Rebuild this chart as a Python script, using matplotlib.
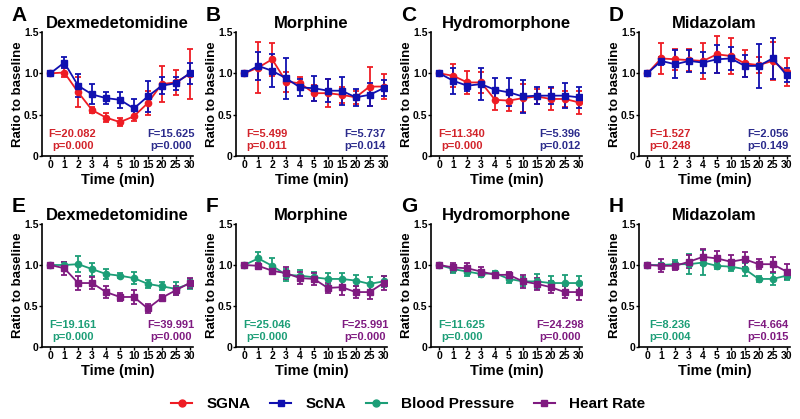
import matplotlib
matplotlib.use("Agg")
import matplotlib.pyplot as plt
from matplotlib.lines import Line2D

plt.rcParams["font.family"] = ["Liberation Sans", "DejaVu Sans"]
plt.rcParams["font.weight"] = "bold"

TIMES = ["0", "1", "2", "3", "4", "5", "10", "15", "20", "25", "30"]
DRUGS = ["Dexmedetomidine", "Morphine", "Hydromorphone", "Midazolam"]
LETTERS_TOP = ["A", "B", "C", "D"]
LETTERS_BOTTOM = ["E", "F", "G", "H"]

# top row: SGNA (red) and ScNA (blue)
sgna_mean = [
    [1.00, 1.01, 0.77, 0.555, 0.465, 0.41, 0.48, 0.64, 0.87, 0.89, 0.99],
    [1.00, 1.07, 1.17, 0.90, 0.88, 0.76, 0.76, 0.74, 0.71, 0.84, 0.84],
    [1.00, 0.97, 0.89, 0.89, 0.68, 0.67, 0.70, 0.72, 0.69, 0.69, 0.65],
    [1.00, 1.18, 1.17, 1.16, 1.15, 1.23, 1.21, 1.12, 1.10, 1.15, 1.02],
]
sgna_err = [
    [0.00, 0.05, 0.18, 0.04, 0.05, 0.05, 0.06, 0.15, 0.22, 0.15, 0.30],
    [0.00, 0.31, 0.20, 0.12, 0.07, 0.10, 0.17, 0.10, 0.08, 0.24, 0.15],
    [0.00, 0.14, 0.14, 0.13, 0.12, 0.12, 0.17, 0.09, 0.13, 0.10, 0.14],
    [0.00, 0.19, 0.13, 0.13, 0.22, 0.22, 0.22, 0.16, 0.10, 0.23, 0.17],
]
scna_mean = [
    [1.00, 1.13, 0.85, 0.745, 0.70, 0.68, 0.575, 0.72, 0.85, 0.88, 1.00],
    [1.00, 1.09, 1.03, 0.94, 0.83, 0.82, 0.79, 0.79, 0.71, 0.74, 0.82],
    [1.00, 0.91, 0.85, 0.87, 0.80, 0.77, 0.72, 0.73, 0.73, 0.73, 0.71],
    [1.00, 1.15, 1.11, 1.15, 1.13, 1.17, 1.18, 1.09, 1.09, 1.18, 0.98],
]
scna_err = [
    [0.00, 0.07, 0.14, 0.12, 0.07, 0.10, 0.11, 0.19, 0.10, 0.08, 0.13],
    [0.00, 0.17, 0.20, 0.25, 0.10, 0.15, 0.14, 0.17, 0.10, 0.14, 0.10],
    [0.00, 0.16, 0.06, 0.19, 0.14, 0.17, 0.20, 0.10, 0.10, 0.15, 0.13],
    [0.00, 0.05, 0.17, 0.13, 0.13, 0.17, 0.14, 0.13, 0.27, 0.25, 0.09],
]
# bottom row: Blood Pressure (green) and Heart Rate (purple)
bp_mean = [
    [1.00, 1.00, 1.01, 0.95, 0.89, 0.87, 0.84, 0.77, 0.74, 0.71, 0.77],
    [1.00, 1.08, 0.99, 0.88, 0.87, 0.85, 0.83, 0.83, 0.81, 0.77, 0.80],
    [1.00, 0.95, 0.92, 0.89, 0.90, 0.83, 0.80, 0.80, 0.78, 0.78, 0.78],
    [1.00, 1.00, 1.01, 1.01, 1.03, 0.99, 0.98, 0.95, 0.83, 0.83, 0.87],
]
bp_err = [
    [0.00, 0.04, 0.10, 0.08, 0.06, 0.03, 0.07, 0.05, 0.05, 0.08, 0.06],
    [0.00, 0.08, 0.09, 0.07, 0.07, 0.06, 0.07, 0.07, 0.07, 0.08, 0.07],
    [0.00, 0.05, 0.05, 0.04, 0.03, 0.05, 0.05, 0.09, 0.09, 0.10, 0.08],
    [0.00, 0.03, 0.05, 0.12, 0.15, 0.04, 0.05, 0.08, 0.04, 0.07, 0.05],
]
hr_mean = [
    [1.00, 0.96, 0.78, 0.78, 0.67, 0.61, 0.61, 0.47, 0.60, 0.69, 0.78],
    [1.00, 0.99, 0.93, 0.90, 0.84, 0.83, 0.72, 0.73, 0.67, 0.67, 0.78],
    [1.00, 0.97, 0.96, 0.92, 0.88, 0.88, 0.80, 0.77, 0.73, 0.67, 0.67],
    [1.00, 0.99, 0.99, 1.04, 1.10, 1.08, 1.04, 1.07, 1.01, 1.01, 0.92],
]
hr_err = [
    [0.00, 0.08, 0.08, 0.07, 0.07, 0.05, 0.08, 0.05, 0.04, 0.05, 0.06],
    [0.00, 0.04, 0.04, 0.07, 0.07, 0.07, 0.06, 0.09, 0.07, 0.09, 0.08],
    [0.00, 0.05, 0.06, 0.06, 0.03, 0.04, 0.08, 0.07, 0.07, 0.07, 0.10],
    [0.00, 0.08, 0.05, 0.08, 0.10, 0.09, 0.08, 0.09, 0.06, 0.09, 0.09],
]

stats_top_left = ["F=20.082\np=0.000", "F=5.499\np=0.011", "F=11.340\np=0.000", "F=1.527\np=0.248"]
stats_top_right = ["F=15.625\np=0.000", "F=5.737\np=0.014", "F=5.396\np=0.012", "F=2.056\np=0.149"]
stats_bot_left = ["F=19.161\np=0.000", "F=25.046\np=0.000", "F=11.625\np=0.000", "F=8.236\np=0.004"]
stats_bot_right = ["F=39.991\np=0.000", "F=25.991\np=0.000", "F=24.298\np=0.000", "F=4.664\np=0.015"]

RED = "#ee1c24"
BLUE = "#1010b0"
GREEN = "#1c9e77"
PURPLE = "#7f1a80"
RED_TXT = "#d2232a"
BLUE_TXT = "#2b2b8c"

W, H = 800, 419
fig = plt.figure(figsize=(8, 4.19), dpi=100)

col_left = [42, 236, 431, 639]
ax_w = 151
rows = [(263, 124), (72, 123)]


def draw_panel(ax, m1, e1, c1, mk1, m2, e2, c2, mk2, txt_l, txt_r, tc1, tc2):
    x = list(range(len(TIMES)))
    ax.errorbar(x, m1, yerr=e1, color=c1, marker=mk1, ms=4.5, lw=1.3,
                capsize=2.5, elinewidth=1.3, capthick=1.3)
    ax.errorbar(x, m2, yerr=e2, color=c2, marker=mk2, ms=4.5, lw=1.3,
                capsize=2.5, elinewidth=1.3, capthick=1.3)
    ax.set_xlim(-0.6, 10.25)
    ax.set_ylim(0, 1.5)
    ax.set_xticks(x)
    ax.set_xticklabels(TIMES)
    ax.set_yticks([0, 0.5, 1.0, 1.5])
    ax.set_yticklabels(["0", "0.5", "1.0", "1.5"])
    ax.spines["top"].set_visible(False)
    ax.spines["right"].set_visible(False)
    ax.spines["left"].set_linewidth(1.2)
    ax.spines["bottom"].set_linewidth(1.2)
    ax.tick_params(labelsize=7.5, length=2, width=1.0, pad=1)
    ax.tick_params(axis="y", pad=0.5)
    for lab in ax.get_xticklabels() + ax.get_yticklabels():
        lab.set_fontweight("bold")
    ax.set_xlabel("Time (min)", fontsize=10.5, fontweight="bold", labelpad=2)
    ax.set_ylabel("Ratio to baseline", fontsize=9.5, fontweight="bold", labelpad=0)
    ax.text(1.6, 0.19, txt_l, color=tc1, fontsize=8, fontweight="bold",
            ha="center", va="center", multialignment="center", linespacing=1.25)
    ax.text(8.65, 0.19, txt_r, color=tc2, fontsize=8, fontweight="bold",
            ha="center", va="center", multialignment="center", linespacing=1.25)


for i in range(4):
    bottom, hgt = rows[0]
    ax = fig.add_axes([col_left[i] / W, bottom / H, ax_w / W, hgt / H])
    draw_panel(ax, sgna_mean[i], sgna_err[i], RED, "o",
               scna_mean[i], scna_err[i], BLUE, "s",
               stats_top_left[i], stats_top_right[i], RED_TXT, BLUE_TXT)
    ax.set_title(DRUGS[i], fontsize=12, fontweight="bold", pad=3)
    ax.text(-0.2, 1.13, LETTERS_TOP[i], transform=ax.transAxes, fontsize=15,
            fontweight="bold", ha="left", va="center")

    bottom, hgt = rows[1]
    ax = fig.add_axes([col_left[i] / W, bottom / H, ax_w / W, hgt / H])
    draw_panel(ax, bp_mean[i], bp_err[i], GREEN, "o",
               hr_mean[i], hr_err[i], PURPLE, "s",
               stats_bot_left[i], stats_bot_right[i], GREEN, PURPLE)
    ax.set_title(DRUGS[i], fontsize=12, fontweight="bold", pad=3)
    ax.text(-0.2, 1.14, LETTERS_BOTTOM[i], transform=ax.transAxes, fontsize=15,
            fontweight="bold", ha="left", va="center")

handles = [
    Line2D([], [], color=RED, marker="o", ms=5, lw=1.5),
    Line2D([], [], color=BLUE, marker="s", ms=5, lw=1.5),
    Line2D([], [], color=GREEN, marker="o", ms=5, lw=1.5),
    Line2D([], [], color=PURPLE, marker="s", ms=5, lw=1.5),
]
labels = ["SGNA", "ScNA", "Blood Pressure", "Heart Rate"]
fig.legend(handles, labels, loc="center", bbox_to_anchor=(0.51, 0.035), ncol=4,
           frameon=False, handlelength=1.4, columnspacing=1.3, handletextpad=0.9,
           prop={"size": 11, "weight": "bold"})

fig.savefig("out.png", dpi=100)
